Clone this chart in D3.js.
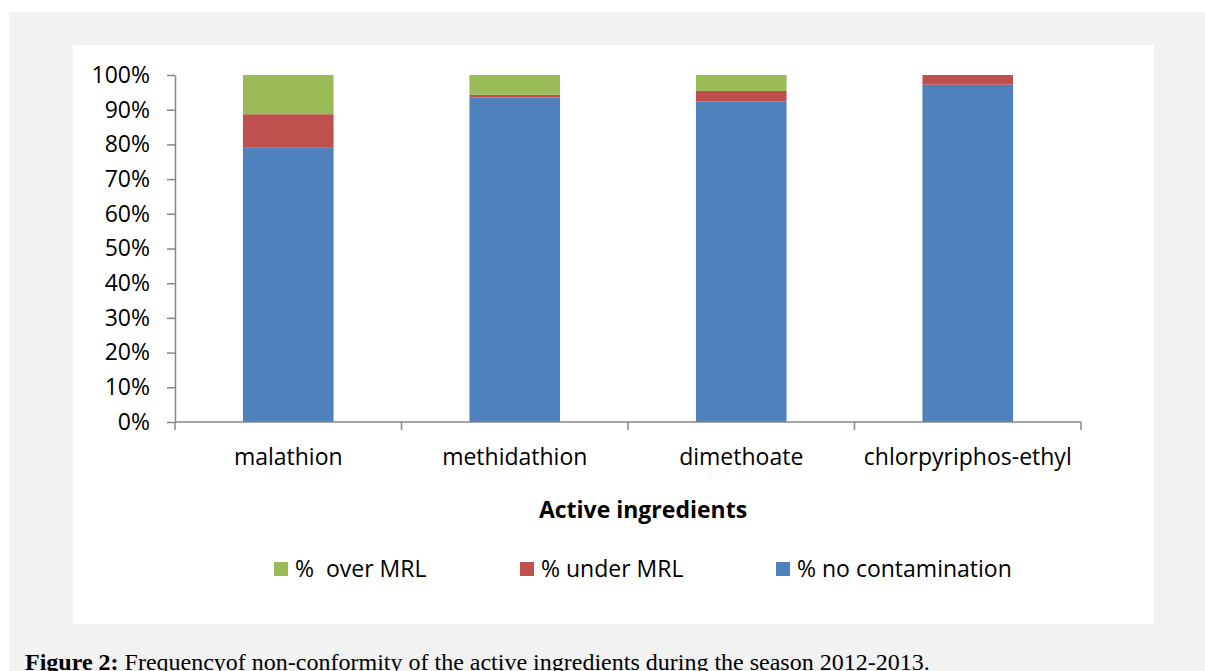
<!DOCTYPE html>
<html>
<head>
<meta charset="utf-8">
<script src="https://cdn.jsdelivr.net/npm/d3@7"></script>
<style>
  body { margin: 0; background: #ffffff; }
  svg { display: block; }
</style>
</head>
<body>
<svg id="chart" width="1205" height="671"></svg>
<script>
// Active ingredients and their shares (%)
var ingredients = ["malathion", "methidathion", "dimethoate", "chlorpyriphos-ethyl"];
var noContamination = [79.2, 93.5, 92.4, 97.2];
var underMRL = [9.5, 0.8, 3.0, 2.8];
var overMRL = [11.3, 5.7, 4.6, 0];
var seriesNames = ["% no contamination", "% under MRL", "%  over MRL"];
var seriesColors = ["#4f81bd", "#c0504d", "#9bbb59"];
var yTicks = [0, 10, 20, 30, 40, 50, 60, 70, 80, 90, 100];

var svg = d3.select("#chart");
var labelFont = "'Open Sans', 'Noto Sans', sans-serif";
var labelSize = 23;

// gray page + white chart box
svg.append("rect").attr("x", 9).attr("y", 12).attr("width", 1196).attr("height", 659).attr("fill", "#f2f2f2");
svg.append("rect").attr("x", 73).attr("y", 45).attr("width", 1081).attr("height", 579).attr("fill", "#ffffff");

var plot = { left: 175, right: 1081, top: 75, bottom: 422 };

var x = d3.scaleBand().domain(ingredients).range([plot.left, plot.right]).paddingInner(0.6).paddingOuter(0.3);
var y = d3.scaleLinear().domain([0, 100]).range([plot.bottom, plot.top]);

// stack the rows
var rows = ingredients.map(function(name, i) {
    return { name: name, s0: noContamination[i], s1: underMRL[i], s2: overMRL[i] };
});
var stack = d3.stack().keys(["s0", "s1", "s2"]);
var layers = stack(rows);

var g = svg.append("g");
g.selectAll("g.layer").data(layers).enter().append("g")
    .attr("class", "layer")
    .attr("fill", function(d, i) { return seriesColors[i]; })
    .selectAll("rect").data(function(d) { return d; }).enter().append("rect")
    .attr("x", function(d) { return x(d.data.name); })
    .attr("width", x.bandwidth())
    .attr("y", function(d) { return y(d[1]); })
    .attr("height", function(d) { return y(d[0]) - y(d[1]); });

// y axis
var yAxis = d3.axisLeft(y).tickValues(yTicks).tickSize(8).tickSizeOuter(0).tickFormat(function(d) { return d + "%"; });
var yg = svg.append("g").attr("transform", "translate(" + plot.left + ",0)").call(yAxis);
yg.selectAll("path, line").attr("stroke", "#868686").attr("stroke-width", 1.5);
yg.selectAll("text").attr("font-family", labelFont).attr("font-size", labelSize).attr("fill", "#000").attr("x", -25);

// x axis with ticks on the category boundaries
var xg = svg.append("g").attr("transform", "translate(0," + plot.bottom + ")");
xg.append("line").attr("x1", plot.left).attr("x2", plot.right).attr("stroke", "#868686").attr("stroke-width", 1.5);
var step = (plot.right - plot.left) / ingredients.length;
xg.selectAll("line.tick").data(d3.range(ingredients.length + 1)).enter().append("line")
    .attr("class", "tick")
    .attr("x1", function(d) { return plot.left + d * step; })
    .attr("x2", function(d) { return plot.left + d * step; })
    .attr("y1", 0).attr("y2", 8)
    .attr("stroke", "#868686").attr("stroke-width", 1.5);
xg.selectAll("text").data(ingredients).enter().append("text")
    .attr("x", function(d) { return x(d) + x.bandwidth() / 2; })
    .attr("y", 43)
    .attr("text-anchor", "middle")
    .attr("font-family", labelFont).attr("font-size", labelSize)
    .text(function(d) { return d; });

// axis title
svg.append("text").attr("x", 643).attr("y", 518).attr("text-anchor", "middle")
    .attr("font-family", labelFont).attr("font-size", labelSize).attr("font-weight", "bold")
    .text("Active ingredients");

// legend (order as in the figure)
var legendItems = [
    { name: seriesNames[2], color: seriesColors[2], x: 274 },
    { name: seriesNames[1], color: seriesColors[1], x: 520 },
    { name: seriesNames[0], color: seriesColors[0], x: 776 }
];
var lg = svg.selectAll("g.legend").data(legendItems).enter().append("g")
    .attr("class", "legend")
    .attr("transform", function(d) { return "translate(" + d.x + ",569)"; });
lg.append("rect").attr("x", 0).attr("y", -7).attr("width", 14).attr("height", 14)
    .attr("fill", function(d) { return d.color; });
lg.append("text").attr("x", 21).attr("y", 8)
    .attr("font-family", labelFont).attr("font-size", labelSize)
    .attr("xml:space", "preserve")
    .text(function(d) { return d.name; });

// caption, sits at the bottom edge
var cap = svg.append("text").attr("x", 25).attr("y", 670)
    .attr("font-family", "'Liberation Serif', 'Times New Roman', serif").attr("font-size", 24);
cap.append("tspan").attr("font-weight", "bold").text("Figure 2:");
cap.append("tspan").text(" Frequencyof non-conformity of the active ingredients during the season 2012-2013.");
</script>
</body>
</html>
